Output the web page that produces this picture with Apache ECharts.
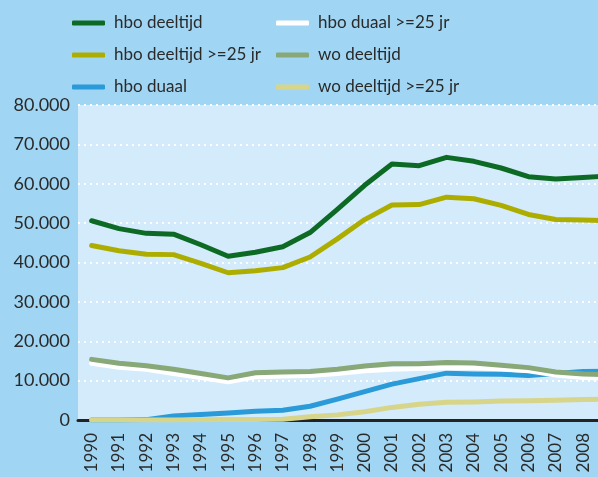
<!DOCTYPE html>
<html><head><meta charset="utf-8">
<script src="https://cdn.jsdelivr.net/npm/echarts@6/dist/echarts.min.js"></script>
<style>html,body{margin:0;padding:0;overflow:hidden;background:#a0d6f4;width:598px;height:477px}#c{width:640px;height:477px}</style>
</head><body><div id="c"></div>
<script>
const years = ['1990','1991','1992','1993','1994','1995','1996','1997','1998','1999','2000','2001','2002','2003','2004','2005','2006','2007','2008','2009'];
const yTicks = [0,10000,20000,30000,40000,50000,60000,70000,80000];
const hboDeeltijd      = [50600,48600,47400,47200,44500,41600,42600,44000,47600,53500,59600,65000,64600,66700,65700,64000,61800,61200,61600,62000];
const hboDeeltijd25    = [44300,43000,42100,42000,39800,37400,37900,38700,41400,46000,50900,54600,54700,56600,56200,54500,52200,50900,50800,50600];
const hboDuaal         = [0,0,100,1000,1400,1800,2200,2500,3500,5300,7200,9100,10500,11900,11700,11600,11300,11800,12300,12400];
const hboDuaal25       = [14400,13400,12900,11800,10800,9700,11000,11200,11300,11800,12500,12900,13100,13300,13300,13000,12500,11400,10800,10600];
const woDeeltijd       = [15400,14400,13800,12900,11800,10700,12000,12200,12300,12900,13700,14300,14300,14600,14500,13900,13300,12200,11700,11500];
const woDeeltijd25     = [0,0,0,0,50,100,150,200,800,1300,2100,3200,4000,4500,4600,4800,4900,5000,5200,5300];
const names = ['hbo deeltijd','hbo deeltijd >=25 jr','hbo duaal','hbo duaal >=25 jr','wo deeltijd','wo deeltijd >=25 jr'];
const colors = ['#0d6a25','#adad00','#2a9ad8','#ffffff','#88a877','#d7d58a'];
const datas = [hboDeeltijd,hboDeeltijd25,hboDuaal,hboDuaal25,woDeeltijd,woDeeltijd25];
const font = 'Lato, "Open Sans", sans-serif';
const chart = echarts.init(document.getElementById('c'), null, {renderer:'canvas'});
const legendText = {color:'#2a2a2a', fontSize:17, fontFamily:font, lineHeight:20, padding:[0,0,0,4]};
chart.setOption({
  animation:false,
  backgroundColor:'#a0d6f4',
  legend:[
    {data:names.slice(0,3), orient:'vertical', left:67, top:8, itemWidth:33, itemHeight:5, itemGap:12, icon:'roundRect', textStyle:legendText},
    {data:names.slice(3), orient:'vertical', left:271, top:8, itemWidth:33, itemHeight:5, itemGap:12, icon:'roundRect', textStyle:legendText}
  ],
  grid:{left:78, right:16, top:105, bottom:57, show:true, backgroundColor:'#d3ebfa', borderWidth:0},
  xAxis:{type:'category', data:years, boundaryGap:true,
    axisLine:{show:true, lineStyle:{color:'#222', width:3}},
    axisTick:{show:false},
    axisLabel:{rotate:90, fontSize:17, color:'#2a2a2a', fontFamily:font, margin:13, interval:0}},
  yAxis:{type:'value', min:0, max:80000, interval:10000,
    axisLine:{show:false}, axisTick:{show:false},
    splitLine:{show:true, lineStyle:{color:'#ffffff', width:2, type:[2,4]}},
    axisLabel:{fontSize:18, color:'#2a2a2a', fontFamily:font, margin:8,
      formatter:v=> v===0?'0':(v/1000).toFixed(0)+'.000'}},
  series: names.map((n,i)=>({name:n, type:'line', data:datas[i], symbol:'none', showSymbol:false,
    color:colors[i], lineStyle:{width:5, color:colors[i], cap:'round', join:'round'}, z:2+i}))
});
</script></body></html>
